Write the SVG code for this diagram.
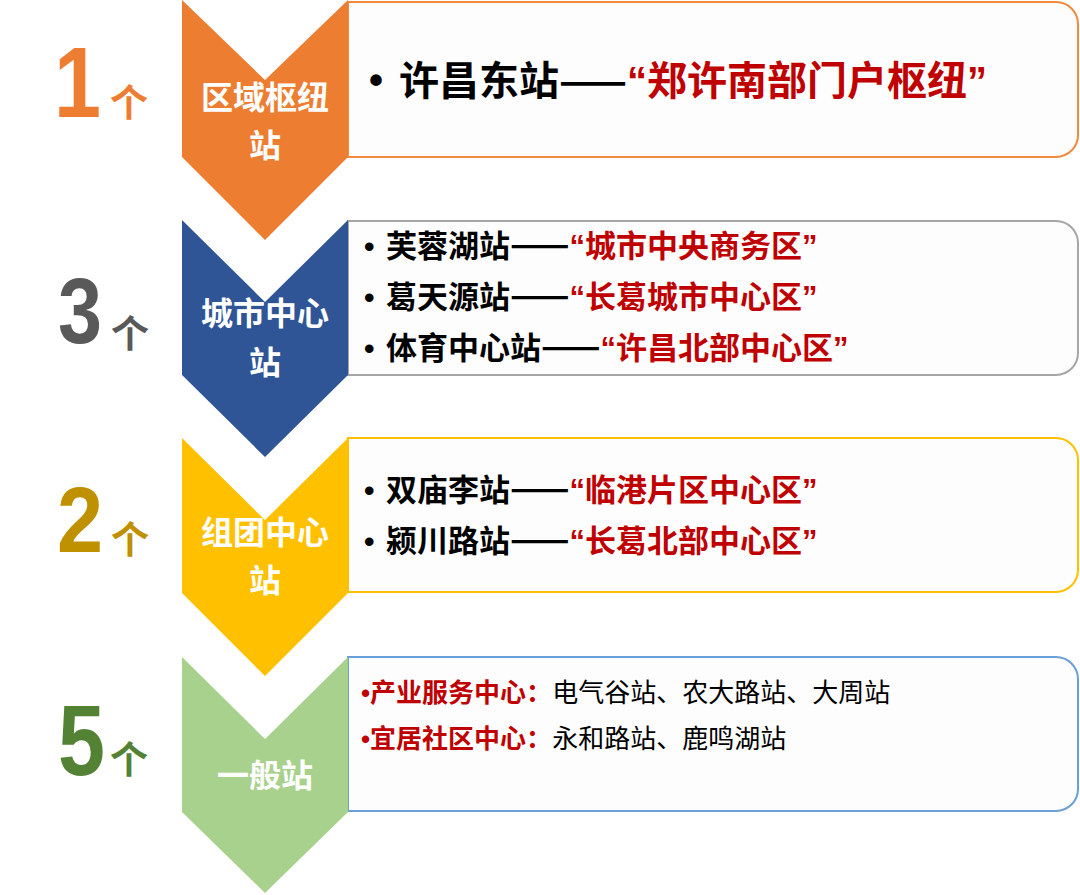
<svg xmlns="http://www.w3.org/2000/svg" width="1080" height="895" viewBox="0 0 1080 895">
<style>
.box{fill:#FDFDFD;stroke-width:2}
.num{font-family:"Liberation Sans","Noto Sans CJK SC",sans-serif;font-weight:bold}
.ge{font-family:"Noto Sans CJK SC",sans-serif;font-weight:bold;font-size:38px}
.cv{font-family:"Noto Sans CJK SC",sans-serif;font-weight:bold;font-size:32px;fill:#FFFFFF;text-anchor:middle}
.t{font-family:"Noto Sans CJK SC",sans-serif;font-weight:bold;fill:#000000}
.b{font-family:"Liberation Sans",sans-serif;font-weight:bold;fill:#000000}
.q{font-family:"Liberation Sans",sans-serif}
.d{font-size:35px}
.r{fill:#C00000}
.n{font-weight:normal;fill:#000000}
</style>
<rect width="1080" height="895" fill="#FFFFFF"/>

<g id="tier1">
<path class="box" stroke="#F08A3E" d="M348,2 H1056 A22,22 0 0 1 1078,24 V135 A22,22 0 0 1 1056,157 H348 Z"/>
<path fill="#ED7D31" d="M182,0 L265,80 L348,0 V157 L265,240 L182,157 Z"/>
<text class="num" x="54" y="117" font-size="100" fill="#ED7D31" textLength="47" lengthAdjust="spacingAndGlyphs">1</text>
<text class="ge" x="110" y="116" fill="#ED7D31">个</text>
<text class="cv" x="265" y="109">区域枢纽</text>
<text class="cv" x="265" y="157">站</text>
<text class="b" x="369" y="94" font-size="40">•</text>
<text class="t" x="399" y="95" font-size="40">许昌东站——<tspan class="r"><tspan class="q">“</tspan>郑许南部门户枢纽<tspan class="q">”</tspan></tspan></text>
</g>

<g id="tier2">
<path class="box" stroke="#A6A6A6" d="M348,221 H1056 A22,22 0 0 1 1078,243 V353 A22,22 0 0 1 1056,375 H348 Z"/>
<path fill="#2F5597" d="M182,220 L265,302 L348,220 V375 L265,457 L182,375 Z"/>
<text class="num" x="58" y="343" font-size="92" fill="#595959" textLength="44" lengthAdjust="spacingAndGlyphs">3</text>
<text class="ge" x="111" y="347" fill="#595959">个</text>
<text class="cv" x="265" y="325">城市中心</text>
<text class="cv" x="265" y="374">站</text>
<text class="b" x="364" y="257" font-size="30">•</text>
<text class="t" x="386" y="257" font-size="31">芙蓉湖站<tspan class="d">——</tspan><tspan class="r"><tspan class="q">“</tspan>城市中央商务区<tspan class="q">”</tspan></tspan></text>
<text class="b" x="364" y="308" font-size="30">•</text>
<text class="t" x="386" y="308" font-size="31">葛天源站<tspan class="d">——</tspan><tspan class="r"><tspan class="q">“</tspan>长葛城市中心区<tspan class="q">”</tspan></tspan></text>
<text class="b" x="364" y="359" font-size="30">•</text>
<text class="t" x="386" y="359" font-size="31">体育中心站<tspan class="d">——</tspan><tspan class="r"><tspan class="q">“</tspan>许昌北部中心区<tspan class="q">”</tspan></tspan></text>
</g>

<g id="tier3">
<path class="box" stroke="#FFC000" d="M348,438 H1056 A22,22 0 0 1 1078,460 V570 A22,22 0 0 1 1056,592 H348 Z"/>
<path fill="#FFC000" d="M182,438 L265,520 L348,438 V593 L265,676 L182,593 Z"/>
<text class="num" x="57" y="552" font-size="92" fill="#BF9000" textLength="46" lengthAdjust="spacingAndGlyphs">2</text>
<text class="ge" x="111" y="553" fill="#BF9000">个</text>
<text class="cv" x="265" y="544">组团中心</text>
<text class="cv" x="265" y="592">站</text>
<text class="b" x="364" y="501" font-size="30">•</text>
<text class="t" x="386" y="501" font-size="31">双庙李站<tspan class="d">——</tspan><tspan class="r"><tspan class="q">“</tspan>临港片区中心区<tspan class="q">”</tspan></tspan></text>
<text class="b" x="364" y="552" font-size="30">•</text>
<text class="t" x="386" y="552" font-size="31">颍川路站<tspan class="d">——</tspan><tspan class="r"><tspan class="q">“</tspan>长葛北部中心区<tspan class="q">”</tspan></tspan></text>
</g>

<g id="tier4">
<path class="box" stroke="#6A9FD8" d="M348,657 H1056 A22,22 0 0 1 1078,679 V789 A22,22 0 0 1 1056,811 H348 Z"/>
<path fill="#A9D18E" d="M182,657 L265,739 L348,657 V812 L265,893 L182,812 Z"/>
<text class="num" x="58" y="775" font-size="100" fill="#548235" textLength="47" lengthAdjust="spacingAndGlyphs">5</text>
<text class="ge" x="110" y="773" fill="#548235">个</text>
<text class="cv" x="265" y="787">一般站</text>
<text class="t r" x="361" y="702" font-size="26"><tspan class="q">•</tspan>产业服务中心：<tspan class="n">电气谷站、农大路站、大周站</tspan></text>
<text class="t r" x="361" y="748" font-size="26"><tspan class="q">•</tspan>宜居社区中心：<tspan class="n">永和路站、鹿鸣湖站</tspan></text>
</g>
</svg>
